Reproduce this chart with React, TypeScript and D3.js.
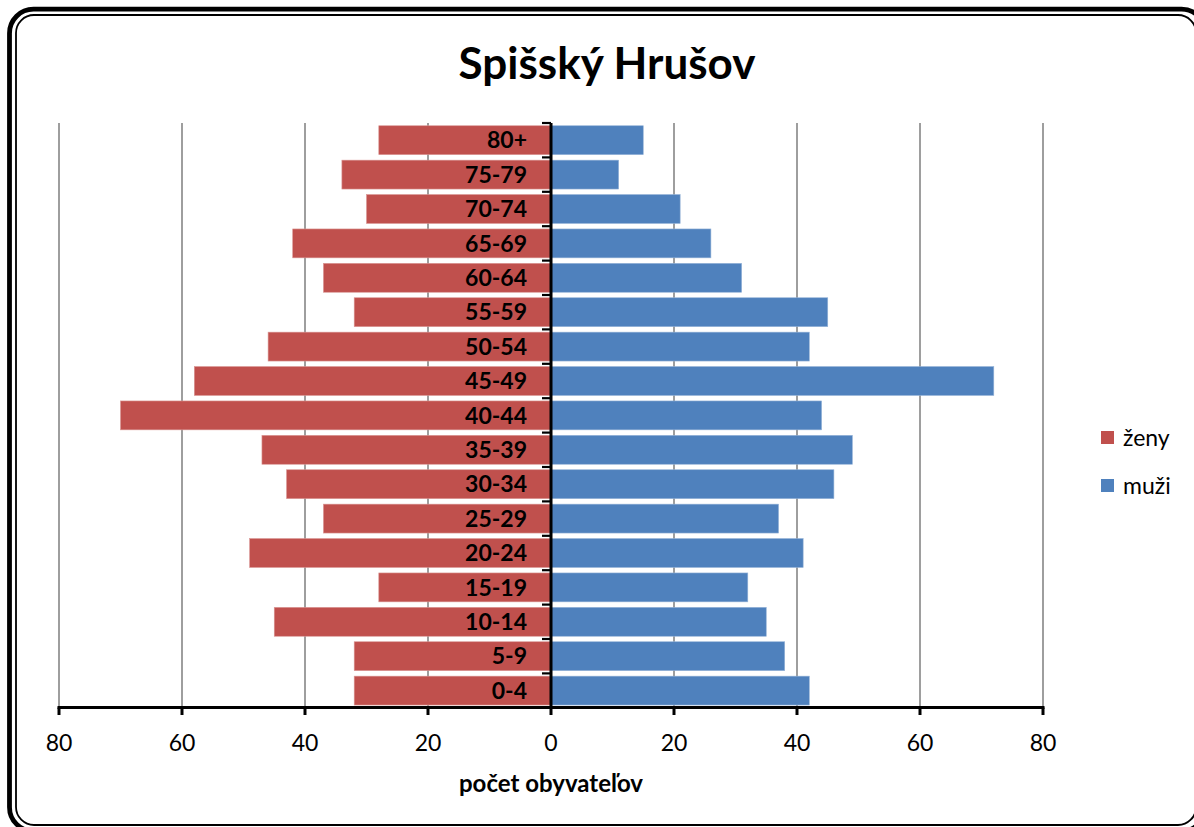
import React from "react";
import * as d3 from "d3";

const categories = ["80+", "75-79", "70-74", "65-69", "60-64", "55-59", "50-54", "45-49", "40-44", "35-39", "30-34", "25-29", "20-24", "15-19", "10-14", "5-9", "0-4"];
const zeny = [28, 34, 30, 42, 37, 32, 46, 58, 70, 47, 43, 37, 49, 28, 45, 32, 32];
const muzi = [15, 11, 21, 26, 31, 45, 42, 72, 44, 49, 46, 37, 41, 32, 35, 38, 42];
const xTicks = [-80, -60, -40, -20, 0, 20, 40, 60, 80];
const title = "Spišský Hrušov";
const xTitle = "počet obyvateľov";
const seriesNames = ["ženy", "muži"];
const colors = ["#C0504D", "#4F81BD"];

const FONT = "Lato, 'Open Sans', 'DejaVu Sans', sans-serif";

export default function App() {
  const x = d3.scaleLinear().domain([-80, 80]).range([59, 1043]);
  const y = d3.scaleBand<string>().domain(categories).range([123, 707.8]).paddingInner(0.16).paddingOuter(0.08);
  const bw = y.bandwidth();
  const step = y.step();
  const axisY = 707.5;
  const x0 = x(0);

  return (
    <svg width={1194} height={827} style={{ position: "absolute", left: 0, top: 0, background: "#fff" }} fontFamily={FONT}>
      {/* border */}
      <rect x={9.5} y={9.2} width={1196} height={822} rx={24} fill="none" stroke="#000" strokeWidth={4.8} />
      <rect x={16} y={15} width={1180} height={810} rx={18} fill="none" stroke="#000" strokeWidth={1.8} />

      <text x={607} y={79} textAnchor="middle" fontSize={44} fontWeight={700}>{title}</text>

      {/* gridlines */}
      {xTicks.filter(t => t !== 0).map(t => (
        <line key={"g" + t} x1={x(t)} x2={x(t)} y1={123} y2={axisY} stroke="#868686" strokeWidth={1.6} />
      ))}

      {/* bars */}
      {categories.map((c, i) => (
        <g key={c}>
          <rect x={x(-zeny[i])} y={y(c)!} width={x0 - x(-zeny[i])} height={bw} fill={colors[0]} stroke="#d99694" strokeWidth={0.6} />
          <rect x={x0} y={y(c)!} width={x(muzi[i]) - x0} height={bw} fill={colors[1]} stroke="#95b3d7" strokeWidth={0.6} />
        </g>
      ))}

      {/* category ticks */}
      {d3.range(categories.length + 1).map(k => {
        const yy = 123 + k * step;
        return <line key={"ct" + k} x1={542} x2={x0} y1={yy} y2={yy} stroke="#000" strokeWidth={2.2} />;
      })}

      {/* category labels */}
      {categories.map(c => (
        <text key={"l" + c} x={527} y={y(c)! + bw / 2} dy="0.36em" textAnchor="end" fontSize={23} fontWeight={700}>{c}</text>
      ))}

      {/* vertical axis */}
      <line x1={x0} x2={x0} y1={123} y2={axisY + 1.5} stroke="#000" strokeWidth={3} />
      {/* horizontal axis */}
      <line x1={x(-80) - 1.5} x2={x(80) + 1.5} y1={axisY} y2={axisY} stroke="#000" strokeWidth={3} />
      {xTicks.map(t => (
        <g key={"t" + t}>
          <line x1={x(t)} x2={x(t)} y1={axisY} y2={715} stroke="#000" strokeWidth={3} />
          <text x={x(t)} y={751} textAnchor="middle" fontSize={23}>{Math.abs(t)}</text>
        </g>
      ))}
      <text x={x0} y={792} textAnchor="middle" fontSize={24} fontWeight={700}>{xTitle}</text>

      {/* legend */}
      {seriesNames.map((s, i) => (
        <g key={s}>
          <rect x={1101} y={431 + i * 48} width={13} height={13} fill={colors[i]} />
          <text x={1123} y={446 + i * 48} fontSize={23}>{s}</text>
        </g>
      ))}
    </svg>
  );
}
